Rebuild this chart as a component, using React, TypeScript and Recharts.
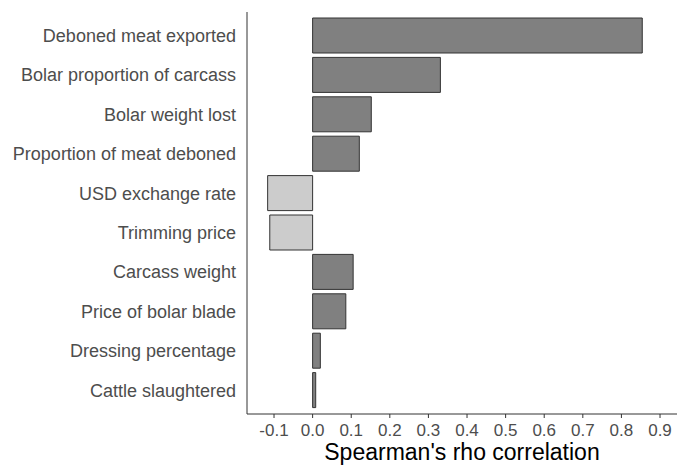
import React from "react";
import { BarChart, Bar, XAxis, YAxis, Cell } from "recharts";

const categories = [
  "Deboned meat exported",
  "Bolar proportion of carcass",
  "Bolar weight lost",
  "Proportion of meat deboned",
  "USD exchange rate",
  "Trimming price",
  "Carcass weight",
  "Price of bolar blade",
  "Dressing percentage",
  "Cattle slaughtered",
];
const rhoValues = [0.854, 0.331, 0.152, 0.121, -0.1165, -0.111, 0.105, 0.086, 0.02, 0.008];
const xTicks = [-0.1, 0, 0.1, 0.2, 0.3, 0.4, 0.5, 0.6, 0.7, 0.8, 0.9];

const data = categories.map((name, i) => ({ name, rho: rhoValues[i] }));

const FONT = "'Liberation Sans', Arial, sans-serif";

export default function App() {
  return (
    <div style={{ position: "absolute", left: 0, top: 0, background: "#fff" }}>
      <BarChart
        width={678}
        height={468}
        data={data}
        layout="vertical"
        margin={{ top: 12, right: 1, bottom: 0, left: 0 }}
        barCategoryGap={2}
      >
        <XAxis
          type="number"
          domain={[-0.17, 0.944]}
          ticks={xTicks}
          allowDataOverflow
          tickFormatter={(v: number) => v.toFixed(1)}
          height={54}
          stroke="#333333"
          tickSize={4}
          tickMargin={6}
          tick={{ fill: "#4d4d4d", fontSize: 17, fontFamily: FONT }}
          label={{
            value: "Spearman's rho correlation",
            position: "insideBottom",
            offset: 8,
            style: { fill: "#000000", fontSize: 23, fontFamily: FONT },
          }}
        />
        <YAxis
          type="category"
          dataKey="name"
          width={247}
          stroke="#333333"
          tickLine={false}
          tickSize={0}
          tickMargin={11}
          padding={{ top: 4, bottom: 4 }}
          interval={0}
          tick={{ fill: "#4d4d4d", fontSize: 18, fontFamily: FONT }}
        />
        <Bar dataKey="rho" stroke="#333333" strokeWidth={1} isAnimationActive={false}>
          {data.map((d, i) => (
            <Cell key={i} fill={d.rho < 0 ? "#cccccc" : "#808080"} />
          ))}
        </Bar>
      </BarChart>
    </div>
  );
}
